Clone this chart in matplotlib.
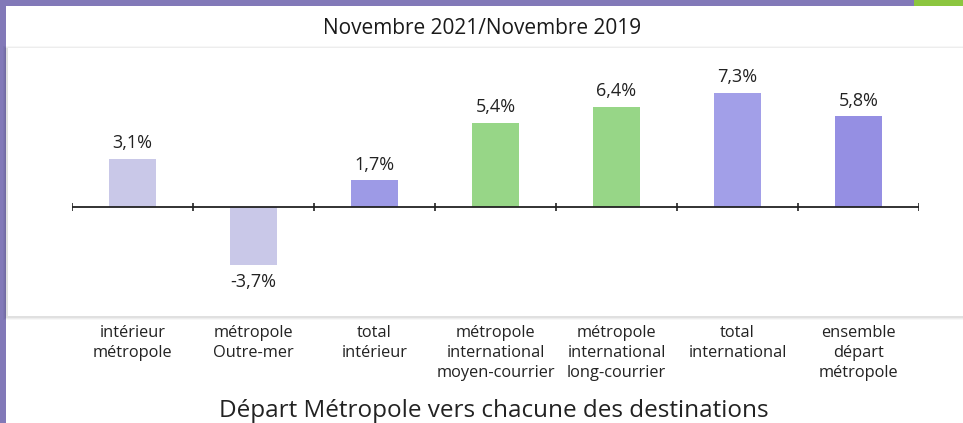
import numpy as np
import matplotlib.pyplot as plt
import matplotlib.patches as patches

plt.rcParams["font.family"] = ["Open Sans", "DejaVu Sans"]

categories = [
    "intérieur\nmétropole",
    "métropole\nOutre-mer",
    "total\nintérieur",
    "métropole\ninternational\nmoyen-courrier",
    "métropole\ninternational\nlong-courrier",
    "total\ninternational",
    "ensemble\ndépart\nmétropole",
]
values = [3.1, -3.7, 1.7, 5.4, 6.4, 7.3, 5.8]
bar_colors = ["#c9c8e8", "#c9c8e8", "#9d9ae6", "#97d687", "#97d687", "#a29fe8", "#958fe3"]

title = "Novembre 2021/Novembre 2019"
xlabel = "Départ Métropole vers chacune des destinations"

W, H = 963, 423


def px(x0, y0, x1, y1):
    # pixel box (top-left origin) -> figure fraction rect
    return (x0 / W, 1 - y1 / H), (x1 - x0) / W, (y1 - y0) / H


def add_box(fig, box, color):
    xy, w, h = px(*box)
    fig.patches.append(patches.Rectangle(xy, w, h, transform=fig.transFigure,
                                         facecolor=color, edgecolor="none", zorder=-10))


def make_plot():
    fig = plt.figure(figsize=(W / 100, H / 100), dpi=100)
    fig.patch.set_facecolor("#8279b8")

    # white page and accent
    add_box(fig, (6, 6, 963, 423), "white")
    add_box(fig, (914, 0, 963, 6), "#8cc63f")
    # chart card with soft shadow
    for i, a in enumerate([0.03, 0.04, 0.05]):
        d = 3 - i
        add_box(fig, (6 - d, 48 - d + 1, 963, 316 + d + 1), (0, 0, 0, a))
    add_box(fig, (8, 48, 963, 316), "white")

    ax = fig.add_axes([72 / W, 1 - 300 / H, (919 - 72) / W, 240 / H])
    ax.patch.set_alpha(0)
    x = np.arange(len(values))
    ax.bar(x, values, width=0.39, color=bar_colors, zorder=2)
    ax.set_xlim(-0.5, len(values) - 0.5)
    ax.set_ylim(-5.96, 9.42)
    ax.axhline(0, color="#222222", lw=1.3, zorder=3)
    ax.vlines(np.arange(len(values) + 1) - 0.5, -0.25, 0.25, color="#222222", lw=1.2, zorder=3)
    for s in ax.spines.values():
        s.set_visible(False)
    ax.set_xticks([])
    ax.set_yticks([])

    for xi, v in zip(x, values):
        lab = f"{v:.1f}%".replace(".", ",")
        if v >= 0:
            ax.annotate(lab, (xi, v), xytext=(0, 5), textcoords="offset points",
                        ha="center", va="bottom", fontsize=13, color="#222222")
        else:
            ax.annotate(lab, (xi, v), xytext=(0, -6), textcoords="offset points",
                        ha="center", va="top", fontsize=13, color="#222222")

    for xi, c in zip(x, categories):
        xf = (72 + (xi + 0.5) * (919 - 72) / len(values)) / W
        fig.text(xf, 1 - 325 / H, c, ha="center", va="top", fontsize=11.8,
                 linespacing=1.32, color="#222222")

    fig.text(482 / W, 1 - 28 / H, title, ha="center", va="center", fontsize=15,
             fontweight="medium", color="#1a1a1a")
    fig.text(494 / W, 1 - 411 / H, xlabel, ha="center", va="center", fontsize=17.5,
             color="#222222")

    fig.savefig("out.png", dpi=100, facecolor=fig.get_facecolor())


if __name__ == "__main__":
    make_plot()
